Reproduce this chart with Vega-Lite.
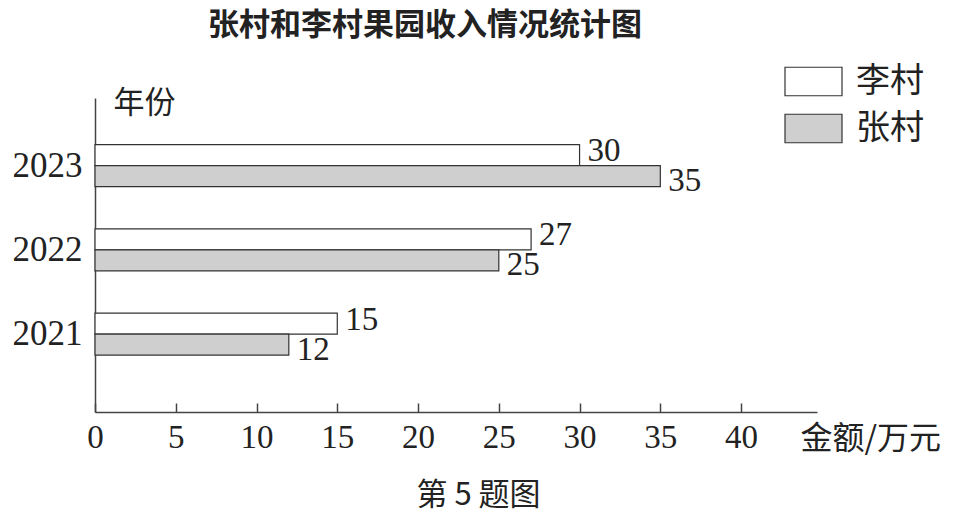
{
  "$schema": "https://vega.github.io/schema/vega-lite/v6.json",
  "width": 722,
  "height": 314,
  "autosize": {"type": "none"},
  "padding": {"left": 95, "top": 98, "right": 145, "bottom": 104},
  "background": "white",
  "title": {
    "text": "张村和李村果园收入情况统计图",
    "font": "Noto Sans CJK SC",
    "fontSize": 31,
    "fontWeight": "bold",
    "color": "#222222",
    "anchor": "middle",
    "dx": -31,
    "offset": 10
  },
  "data": {
    "values": [
      {"year": "2023", "village": "李村", "value": 30},
      {"year": "2023", "village": "张村", "value": 35},
      {"year": "2022", "village": "李村", "value": 27},
      {"year": "2022", "village": "张村", "value": 25},
      {"year": "2021", "village": "李村", "value": 15},
      {"year": "2021", "village": "张村", "value": 12}
    ]
  },
  "encoding": {
    "y": {
      "field": "year",
      "type": "nominal",
      "sort": "descending",
      "scale": {"paddingInner": 0.5015, "paddingOuter": 0.614, "align": 0.45},
      "axis": {
        "title": "年份",
        "titleAngle": 0,
        "titleX": 18,
        "titleY": 5,
        "titleAlign": "left",
        "titleBaseline": "middle",
        "titleFont": "Noto Sans CJK SC",
        "titleFontSize": 31,
        "titleFontWeight": "normal",
        "titleColor": "#222222",
        "ticks": false,
        "labelPadding": 13,
        "labelFont": "Liberation Serif",
        "labelFontSize": 35,
        "labelColor": "#222222",
        "domainColor": "#444444",
        "domainWidth": 1.5
      }
    },
    "yOffset": {"field": "village", "type": "nominal", "sort": ["李村", "张村"]},
    "x": {
      "field": "value",
      "type": "quantitative",
      "scale": {"domain": [0, 44.7], "nice": false, "zero": true}
    }
  },
  "layer": [
    {
      "mark": {"type": "bar", "stroke": "#333333", "strokeWidth": 1.2},
      "encoding": {
        "x": {
          "field": "value",
          "type": "quantitative",
          "axis": {
            "values": [0, 5, 10, 15, 20, 25, 30, 35, 40],
            "grid": false,
            "tickSize": -9,
            "tickWidth": 1.5,
            "tickColor": "#444444",
            "domainColor": "#444444",
            "domainWidth": 1.5,
            "labelFont": "Liberation Serif",
            "labelFontSize": 33,
            "labelColor": "#222222",
            "labelPadding": 18,
            "labelFlush": false,
            "title": "金额/万元",
            "titleX": 705,
            "titleY": 26,
            "titleAlign": "left",
            "titleBaseline": "middle",
            "titleFont": "Noto Sans CJK SC",
            "titleFontSize": 32,
            "titleFontWeight": "normal",
            "titleColor": "#222222"
          }
        },
        "color": {
          "field": "village",
          "type": "nominal",
          "sort": ["李村", "张村"],
          "scale": {"domain": ["李村", "张村"], "range": ["#ffffff", "#cfcfcf"]},
          "legend": {
            "orient": "none",
            "legendX": 689,
            "legendY": -46,
            "title": null,
            "symbolType": "M-1,-0.5H1V0.5H-1Z",
            "symbolSize": 3249,
            "symbolStrokeColor": "#333333",
            "symbolStrokeWidth": 1.2,
            "symbolOpacity": 1,
            "labelFont": "Noto Sans CJK SC",
            "labelFontSize": 34,
            "labelColor": "#222222",
            "labelOffset": 13,
            "rowPadding": -4
          }
        }
      }
    },
    {
      "transform": [{"filter": "datum.village === '李村'"}],
      "mark": {"type": "text", "align": "left", "baseline": "middle", "dx": 8, "dy": -4, "font": "Liberation Serif", "fontSize": 33, "color": "#222222"},
      "encoding": {
        "text": {"field": "value", "type": "quantitative"},
        "x": {
          "field": "value",
          "type": "quantitative",
          "axis": {
            "orient": "bottom",
            "labels": false,
            "ticks": false,
            "domain": false,
            "grid": false,
            "title": "第 5 题图",
            "titleX": 383,
            "titleY": 83,
            "titleAlign": "center",
            "titleBaseline": "middle",
            "titleFont": "Noto Sans CJK SC",
            "titleFontSize": 31,
            "titleFontWeight": "normal",
            "titleColor": "#222222"
          }
        }
      }
    },
    {
      "transform": [{"filter": "datum.village === '张村'"}],
      "mark": {"type": "text", "align": "left", "baseline": "middle", "dx": 8, "dy": 5, "font": "Liberation Serif", "fontSize": 33, "color": "#222222"},
      "encoding": {
        "text": {"field": "value", "type": "quantitative"},
        "x": {"field": "value", "type": "quantitative", "axis": null}
      }
    }
  ],
  "resolve": {"axis": {"x": "independent"}},
  "config": {"view": {"stroke": null}}
}
